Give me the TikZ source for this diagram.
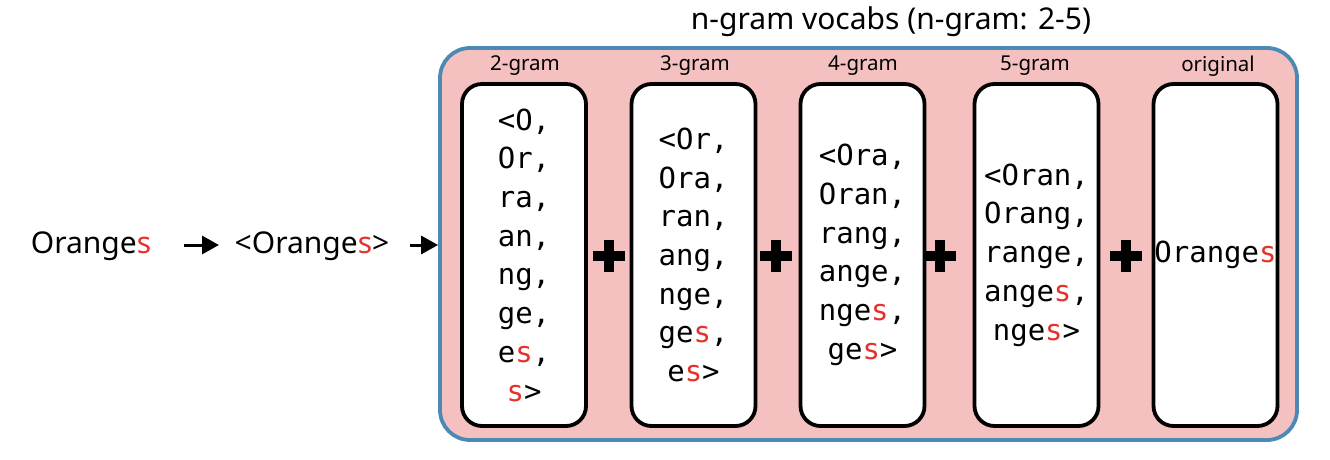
\documentclass[tikz,border=0pt]{standalone}
\usepackage{fontspec}
\setmainfont{Noto Sans}
\newfontfamily\monofam{DejaVu Sans Mono}
\usetikzlibrary{arrows.meta}
\definecolor{pinkfill}{HTML}{F4C0C0}
\definecolor{blueedge}{HTML}{4A8AB5}
\definecolor{reds}{HTML}{E8302A}
\newcommand{\rs}[1]{\textcolor{reds}{#1}}
\tikzset{
  gbox/.style={draw=black, line width=3.8pt, fill=white, rounded corners=20pt,
    minimum width=124pt, minimum height=342pt, inner sep=0pt, align=center,
    font=\monofam\fontsize{29}{38.7}\selectfont},
  glabel/.style={font=\fontsize{20.5}{24}\selectfont, inner sep=0pt},
  word/.style={font=\fontsize{30}{34}\selectfont, inner sep=0pt},
  arr/.style={line width=3pt, -{Triangle[length=17pt,width=18pt]}},
  plussign/.pic={\fill[black] (-16,-5) rectangle (16,5); \fill[black] (-5,-16) rectangle (5,16);}
}
\begin{document}
\begin{tikzpicture}[x=1pt,y=-1pt]
\useasboundingbox (0,0) rectangle (1330,460);
\node[draw=blueedge, line width=3.8pt, fill=pinkfill, rounded corners=30pt,
  minimum width=857pt, minimum height=392pt, inner sep=0pt] (outer) at (868.5,244) {};
\node[font=\fontsize{30}{34}\selectfont, inner sep=0pt] (title) at (891,22) {n-gram vocabs (n-gram: 2-5)};
\node[word] (w1) at (91,246) {Orange\rs{s}};
\node[word] (w2) at (312,246) {<Orange\rs{s}>};
\coordinate (a1s) at (184,245);
\coordinate (a1e) at (219,245);
\draw[arr] (a1s) -- (a1e);
\coordinate (a2s) at (410,245);
\draw[arr] (a2s) -- (a2s -| outer.west);
\node[gbox] (b1) at (524,255) {<O,\\Or,\\ra,\\an,\\ng,\\ge,\\e\rs{s},\\\rs{s}>};
\node[gbox] (b2) at (693.5,255) {<Or,\\Ora,\\ran,\\ang,\\nge,\\ge\rs{s},\\e\rs{s}>};
\node[gbox] (b3) at (862.5,255) {<Ora,\\Oran,\\rang,\\ange,\\nge\rs{s},\\ge\rs{s}>};
\node[gbox] (b4) at (1036.5,255) {<Oran,\\Orang,\\range,\\ange\rs{s},\\nge\rs{s}>};
\node[gbox] (b5) at (1215.5,255) {Orange\rs{s}};
\node[glabel] (l1) at (525,66) {2-gram};
\node[glabel] (l2) at (695,66) {3-gram};
\node[glabel] (l3) at (863,66) {4-gram};
\node[glabel] (l4) at (1035,66) {5-gram};
\node[glabel] (l5) at (1218,66) {original};
\pic at (609,256) {plussign};
\pic at (776,256) {plussign};
\pic at (940,256) {plussign};
\pic at (1126,256) {plussign};
\end{tikzpicture}
\end{document}
